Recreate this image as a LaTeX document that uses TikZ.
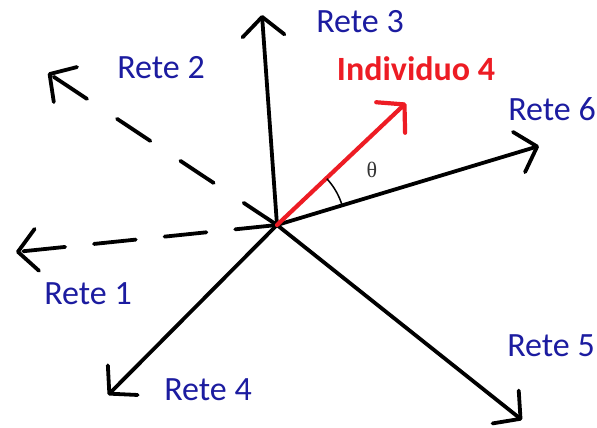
\documentclass[tikz,border=0pt]{standalone}
\usepackage{fontspec}
\setmainfont{Carlito}
\newfontfamily\thetafont{Liberation Serif}
\usetikzlibrary{arrows.meta,calc}
\definecolor{lblue}{RGB}{28,28,160}
\definecolor{pred}{RGB}{237,28,36}
\tikzset{
  vec/.style={line width=3.8pt, line cap=round, line join=round,
    -{Straight Barb[length=19pt,width=42pt,line cap=round,line join=round]}},
  lbl/.style={text=lblue, font=\fontsize{34}{38}\selectfont, inner sep=0pt},
}
\begin{document}
\begin{tikzpicture}[x=1pt,y=-1pt]
\useasboundingbox (0,0) rectangle (597,428);
\fill[white] (0,0) rectangle (597,428);
\coordinate (O) at (277,225);
\coordinate (t3) at (262,15);
\coordinate (t2) at (48,73);
\coordinate (t1) at (16,252);
\coordinate (t4) at (108,395);
\coordinate (t5) at (522,420);
\coordinate (t6) at (539,146);
\coordinate (tr) at (406,103);
\draw[vec] (O) -- (t3);
\draw[vec, dash pattern=on 40pt off 36pt] (O) -- (t2);
\draw[vec, dash pattern=on 42pt off 29pt] (O) -- (t1);
\draw[vec] (O) -- (t4);
\draw[vec] (O) -- (t5);
\draw[vec] (O) -- (t6);
\draw[vec, pred, line width=4.2pt] (O) -- (tr);
\draw[line width=1.5pt] ($(O)+(-16.8:68)$) arc[start angle=-16.8, end angle=-42.9, radius=68];
\node[lbl] (l3) at (360,22) {Rete 3};
\node[lbl] (l2) at (161,68) {Rete 2};
\node[lbl, text=pred, font=\fontsize{34}{38}\selectfont\bfseries] (li) at (416,69) {Individuo 4};
\node[lbl] (l6) at (552,109) {Rete 6};
\node[lbl] (l1) at (88,294) {Rete 1};
\node[lbl] (l5) at (551,346) {Rete 5};
\node[lbl] (l4) at (208,390) {Rete 4};
\node[inner sep=0pt, text=black!80, font=\thetafont\fontsize{22}{24}\selectfont] (th) at (372,170) {θ};
\end{tikzpicture}
\end{document}
